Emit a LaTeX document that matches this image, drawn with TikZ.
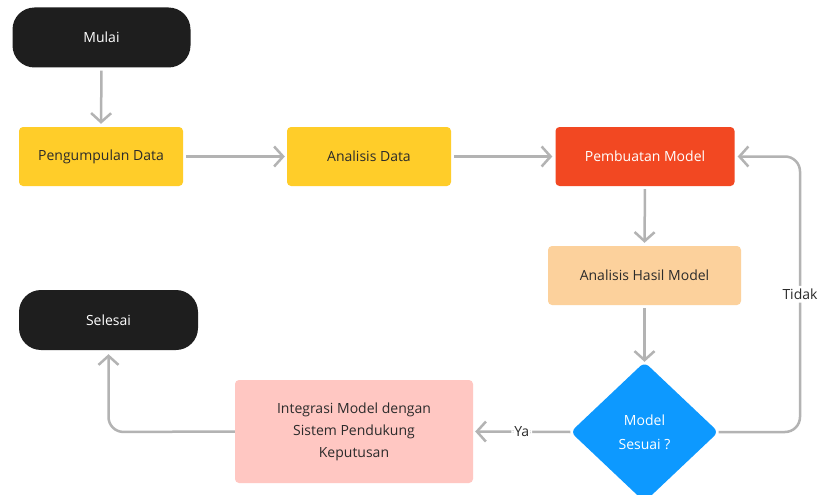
\documentclass[tikz,border=0pt]{standalone}
\usepackage{fontspec}
\setmainfont{Open Sans}
\usetikzlibrary{arrows.meta,shapes.geometric}
\definecolor{cblack}{HTML}{1E1E1E}
\definecolor{cyellow}{HTML}{FFCD29}
\definecolor{cred}{HTML}{F24822}
\definecolor{clorange}{HTML}{FCD19C}
\definecolor{cblue}{HTML}{0D99FF}
\definecolor{cpink}{HTML}{FFC7C2}
\definecolor{cline}{HTML}{B3B3B3}
\definecolor{ctext}{HTML}{2B2B2B}
\tikzset{
  box/.style={rectangle, rounded corners=4pt, inner sep=0pt, align=center, font=\fontsize{14}{22}\selectfont, text=ctext},
  terminal/.style={rectangle, rounded corners=22pt, fill=cblack, text=white, inner sep=0pt, font=\fontsize{14}{20}\selectfont},
  conn/.style={draw=cline, line width=2.5pt, -{Straight Barb[length=9pt,width=20pt]}, rounded corners=15pt},
  lbl/.style={fill=white, inner sep=3pt, text=ctext, font=\fontsize{14}{18}\selectfont}
}
\begin{document}
\begin{tikzpicture}[x=1pt,y=-1pt]
\useasboundingbox[fill=white] (0,0) rectangle (820,495);
\node[terminal, minimum width=178pt, minimum height=60pt] (mulai) at (101.5,37.5) {Mulai};
\node[box, fill=cyellow, minimum width=164pt, minimum height=59pt] (peng) at (101,156.5) {Pengumpulan Data};
\node[box, fill=cyellow, minimum width=164pt, minimum height=59pt] (anal) at (369,156.5) {Analisis Data};
\node[box, fill=cred, text=white, minimum width=179pt, minimum height=59pt] (pemb) at (645,156.5) {Pembuatan Model};
\node[box, fill=clorange, minimum width=193pt, minimum height=59pt] (hasil) at (644.5,275.5) {Analisis Hasil Model};
\node[diamond, fill=cblue, text=white, inner sep=0pt, minimum width=148pt, minimum height=140pt, rounded corners=6pt, align=center, font=\fontsize{14}{24}\selectfont] (dec) at (644.5,432) {Model\\Sesuai ?};
\node[terminal, minimum width=179pt, minimum height=60pt] (selesai) at (108.5,320) {Selesai};
\node[box, fill=cpink, minimum width=238pt, minimum height=103pt, text=ctext] (integ) at (354,431.5) {Integrasi Model dengan\\Sistem Pendukung\\Keputusan};

\draw[conn, shorten <=3pt, shorten >=3pt] (mulai.south) -- (peng.north);
\draw[conn, shorten <=3pt, shorten >=2pt] (peng.east) -- (anal.west);
\draw[conn, shorten <=3pt, shorten >=3pt] (anal.east) -- (pemb.west);
\draw[conn, shorten <=3pt, shorten >=3pt] (pemb.south) -- (hasil.north);
\draw[conn, shorten <=3pt, shorten >=0pt] (hasil.south) -- (dec.north);
\draw[conn, shorten >=3pt] (dec.east) -- (800,432) -- node[lbl, pos=0.5] {Tidak} (800,156.5) -- (pemb.east);
\draw[conn, shorten >=2pt] (dec.west) -- node[lbl] {Ya} (integ.east);
\draw[conn, shorten >=4pt] (integ.west) -- (108.5,432) -- (selesai.south);
\end{tikzpicture}
\end{document}
